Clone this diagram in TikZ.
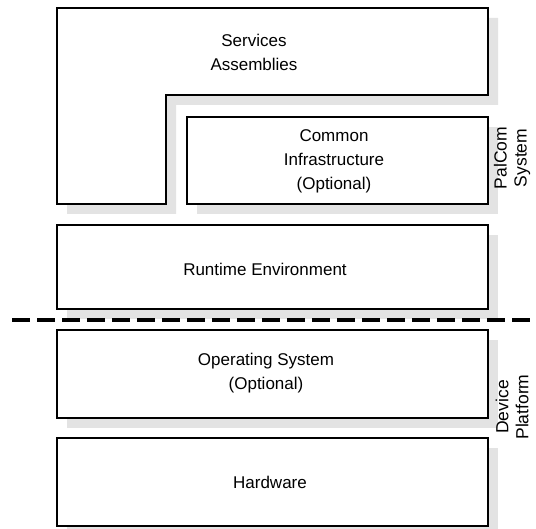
\documentclass[tikz,border=0pt]{standalone}
\usepackage{fontspec}
\setmainfont{Liberation Sans}
\usepackage{tikz}
\usetikzlibrary{shadows, positioning}
\definecolor{shadowgray}{RGB}{227, 227, 227}

\begin{document}
\begin{tikzpicture}[
  x=1pt, y=-1pt,
  layer/.style={draw, line width=2pt, fill=white, drop shadow={shadow xshift=10pt, shadow yshift=-10pt, fill=shadowgray, opacity=1}},
  label/.style={align=center, font=\fontsize{17}{24}\selectfont, inner sep=0pt},
  side/.style={align=center, rotate=90, font=\fontsize{17.5}{20}\selectfont, inner sep=0pt},
  divider/.style={line width=4pt, dash pattern=on 18pt off 7pt}
]
  \useasboundingbox (0,0) rectangle (536,529);

  % PalCom system layers
  \draw[layer] (57,8) -- (488,8) -- (488,95) -- (166,95) -- (166,204) -- (57,204) -- cycle;
  \draw[layer] (187,117) rectangle (488,204);
  \draw[layer] (57,225) rectangle (488,309);

  % Device platform layers
  \draw[layer] (57,330) rectangle (488,418);
  \draw[layer] (57,438) rectangle (488,526);

  % Texts
  \node[label] (services) at (254,52) {Services\\Assemblies};
  \node[label] (common) at (334,161) {Common\\Infrastructure\\(Optional)};
  \node[label] (runtime) at (265,269) {Runtime Environment};
  \node[label] (os) at (266,373) {Operating System\\(Optional)};
  \node[label] (hw) at (270,482) {Hardware};

  \node[side] (palcom) at (512,158) {PalCom\\System};
  \node[side] (device) at (512,407) {Device\\Platform};

  % Divider
  \coordinate (divl) at (12,320);
  \coordinate (divr) at (536,320);
  \draw[divider] (divl) -- (divr);
\end{tikzpicture}
\end{document}
